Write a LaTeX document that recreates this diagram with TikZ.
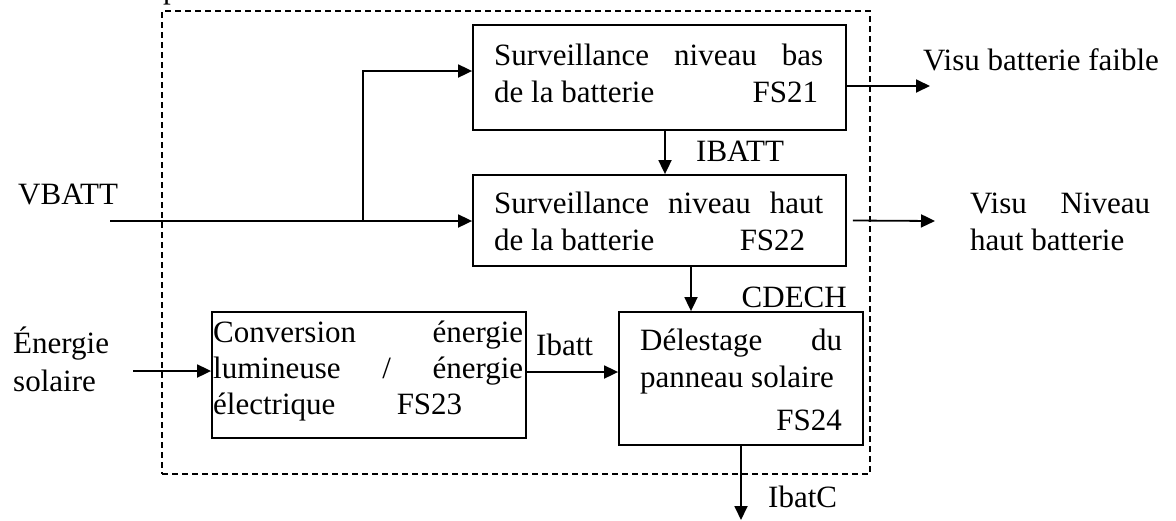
\documentclass[tikz,border=0pt]{standalone}
\usepackage{fontspec}
\setmainfont{Liberation Serif}
\usetikzlibrary{arrows.meta}
\newcommand\bigf{\fontsize{31}{37}\selectfont}
\begin{document}
\begin{tikzpicture}[x=1pt,y=-1pt,
  box/.style={draw,line width=1.8pt,inner sep=0pt},
  sysbox/.style={draw,line width=1.6pt,dash pattern=on 6pt off 4pt,inner sep=0pt},
  arr/.style={line width=1.8pt,-{Triangle[length=14pt,width=13pt]}},
  txt/.style={anchor=base west,inner sep=0pt,font=\bigf},
  txte/.style={anchor=base east,inner sep=0pt,font=\bigf}]
\useasboundingbox (0,0) rectangle (1176,520);
% system boundary
\node[sysbox,minimum width=708pt,minimum height=463pt] (sys) at (516,242.5) {};
\node[txt] (ptop) at (163,-1.5) {p};
% blocks
\node[box,minimum width=373pt,minimum height=105pt] (fs21) at (659.5,77.5) {};
\node[box,minimum width=373pt,minimum height=91pt] (fs22) at (659.5,220.5) {};
\node[box,minimum width=314pt,minimum height=126pt] (fs23) at (369,375) {};
\node[box,minimum width=244pt,minimum height=133pt] (fs24) at (741,378.5) {};
% block texts
\node[txt] (t21a) at (494,65) {\makebox[329pt][s]{Surveillance niveau bas}};
\node[txt] (t21b) at (494,102) {\makebox[324pt][l]{de la batterie\hfill FS21}};
\node[txt] (t22a) at (494,213) {\makebox[329pt][s]{Surveillance niveau haut}};
\node[txt] (t22b) at (494,250) {\makebox[311pt][l]{de la batterie\hfill FS22}};
\node[txt] (t23a) at (213,342) {\makebox[310pt][s]{Conversion énergie}};
\node[txt] (t23b) at (213,378) {\makebox[310pt][s]{lumineuse / énergie}};
\node[txt] (t23c) at (213,414) {\makebox[249pt][l]{électrique\hfill FS23}};
\node[txt] (t24a) at (640,350) {\makebox[202pt][s]{Délestage du}};
\node[txt] (t24b) at (640,387) {panneau solaire};
\node[txte] (t24c) at (842,430) {FS24};
% external texts
\node[txt] (vbatt) at (18,204) {VBATT};
\node[txt] (ener1) at (13,353) {Énergie};
\node[txt] (ener2) at (13,391) {solaire};
\node[txt] (visu1) at (923,70) {Visu batterie faible};
\node[txt] (visu2a) at (970,213) {\makebox[180pt][s]{Visu Niveau}};
\node[txt] (visu2b) at (970,250) {haut batterie};
\node[txt] (ibatt1) at (696,161) {IBATT};
\node[txte] (cdech) at (847,307) {CDECH};
\node[txt] (ibatt2) at (536,355) {Ibatt};
\node[txt] (ibatc) at (768,507) {IbatC};
% connectors
\coordinate (vin) at (110,221);
\coordinate (br) at (363,221);
\coordinate (ein) at (133,371);
\coordinate (o21) at (930,86);
\coordinate (o22) at (935,221);
\coordinate (o24) at (741,520);
\draw[arr] (vin) -- (vin -| fs22.west);
\draw[arr] (br) |- ([yshift=6.5pt]fs21.west);
\draw[arr] ([yshift=-8.5pt]fs21.east) -- (o21);
\draw[arr] ([xshift=6pt]fs22.east) -- (o22);
\draw[arr] ([xshift=5.5pt]fs21.south) -- ([xshift=5.5pt]fs22.north);
\draw[arr] ([xshift=31.5pt]fs22.south) -- ([xshift=31.5pt]fs22.south |- fs24.north);
\draw[arr] (ein) -- (ein -| fs23.west);
\draw[arr] ([yshift=3pt]fs23.east) -- ([yshift=3pt]fs23.east -| fs24.west);
\draw[arr] (fs24.south) -- (o24);
\end{tikzpicture}
\end{document}
